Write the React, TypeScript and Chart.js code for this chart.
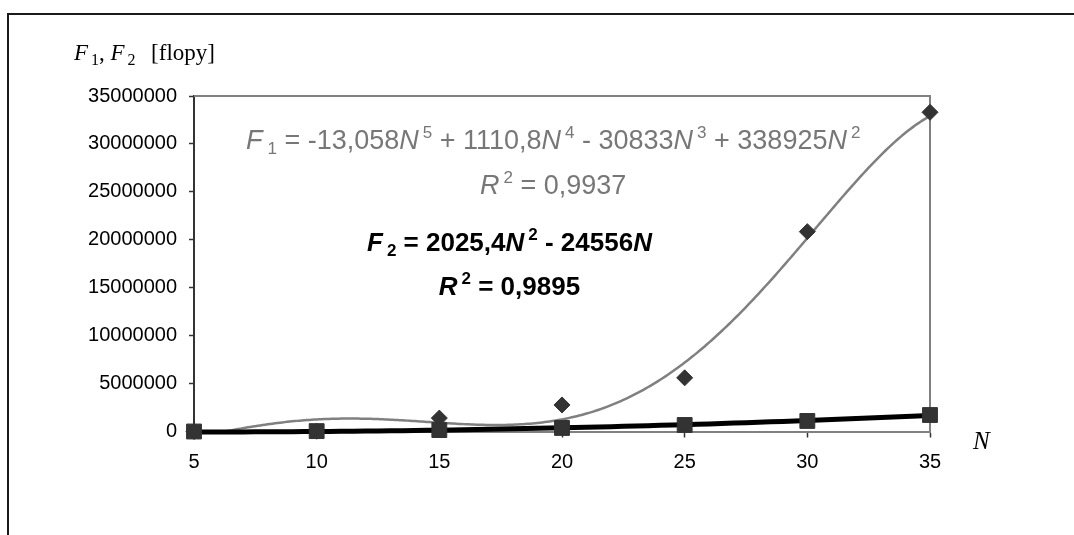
import React, { useEffect, useRef } from "react";
import { Chart, registerables } from "chart.js";

Chart.register(...registerables);

// ---- data ----
const nValues = [5, 10, 15, 20, 25, 30, 35];
const f1Values = [0, 30000, 1400000, 2770000, 5600000, 20850000, 33300000];
const f2Values = [0, 40000, 150000, 370000, 680000, 1100000, 1720000];
// F1 polynomial trendline
const f1TrendN = [6.2, 8, 9.7, 11.4, 13, 14.6, 16.3, 17.5, 20, 21.5, 23.2, 25, 27.3, 30, 31.6, 33.5, 35];
const f1TrendValues = [
  50000, 680000, 1130000, 1300000, 1230000, 1060000, 890000, 860000, 1400000, 1800000, 3900000,
  7100000, 13000000, 20500000, 24700000, 29600000, 33200000,
];
const yTickValues = [0, 5000000, 10000000, 15000000, 20000000, 25000000, 30000000, 35000000];
const xTickValues = [5, 10, 15, 20, 25, 30, 35];
const f1Powers = [0, 1, 2, 3, 4, 5];
const f2Powers = [1, 2];

const SANS = 'Arial, "Liberation Sans", sans-serif';
const SERIF = '"Times New Roman", "Liberation Serif", serif';

// least-squares polynomial (scaled basis for conditioning)
function fitPoly(xs: number[], ys: number[], powers: number[]) {
  const s = Math.max(...xs);
  const m = powers.length;
  const A: number[][] = Array.from({ length: m }, () => new Array(m + 1).fill(0));
  xs.forEach((x, k) => {
    const phi = powers.map((p) => Math.pow(x / s, p));
    for (let i = 0; i < m; i++) {
      for (let j = 0; j < m; j++) A[i][j] += phi[i] * phi[j];
      A[i][m] += phi[i] * ys[k];
    }
  });
  for (let c = 0; c < m; c++) {
    let piv = c;
    for (let r = c + 1; r < m; r++) if (Math.abs(A[r][c]) > Math.abs(A[piv][c])) piv = r;
    [A[c], A[piv]] = [A[piv], A[c]];
    for (let r = 0; r < m; r++) {
      if (r === c) continue;
      const f = A[r][c] / A[c][c];
      for (let j = c; j <= m; j++) A[r][j] -= f * A[c][j];
    }
  }
  const coef = A.map((row, i) => row[m] / row[i]);
  return (x: number) => powers.reduce((acc, p, i) => acc + coef[i] * Math.pow(x / s, p), 0);
}

function sampleCurve(fn: (x: number) => number, from: number, to: number, step: number) {
  const pts: { x: number; y: number }[] = [];
  for (let x = from; x <= to + 1e-9; x += step) pts.push({ x, y: fn(x) });
  return pts;
}

type Seg = { t: string; f: string; dy?: number; gap?: number };

function segsWidth(ctx: CanvasRenderingContext2D, segs: Seg[]) {
  let w = 0;
  for (const s of segs) {
    ctx.font = s.f;
    w += (s.gap || 0) + ctx.measureText(s.t).width;
  }
  return w;
}

function drawSegs(ctx: CanvasRenderingContext2D, segs: Seg[], x: number, y: number, color: string) {
  ctx.fillStyle = color;
  ctx.textAlign = "left";
  ctx.textBaseline = "alphabetic";
  let cx = x;
  for (const s of segs) {
    cx += s.gap || 0;
    ctx.font = s.f;
    ctx.fillText(s.t, cx, y + (s.dy || 0));
    cx += ctx.measureText(s.t).width;
  }
}

const F1N = `27px ${SANS}`;
const F1I = `italic 27px ${SANS}`;
const F1S = `17px ${SANS}`;
const F2N = `bold 26px ${SANS}`;
const F2I = `italic bold 26px ${SANS}`;
const F2S = `bold 17px ${SANS}`;

const f1Eq: Seg[] = [
  { t: "F", f: F1I },
  { t: "1", f: F1S, dy: 5, gap: 5 },
  { t: " = -13,058", f: F1N },
  { t: "N", f: F1I },
  { t: "5", f: F1S, dy: -11, gap: 4 },
  { t: " + 1110,8", f: F1N },
  { t: "N", f: F1I },
  { t: "4", f: F1S, dy: -11, gap: 4 },
  { t: " - 30833", f: F1N },
  { t: "N", f: F1I },
  { t: "3", f: F1S, dy: -11, gap: 4 },
  { t: " + 338925", f: F1N },
  { t: "N", f: F1I },
  { t: "2", f: F1S, dy: -11, gap: 4 },
];
const f1R2: Seg[] = [
  { t: "R", f: F1I },
  { t: "2", f: F1S, dy: -11, gap: 4 },
  { t: " = 0,9937", f: F1N },
];
const f2Eq: Seg[] = [
  { t: "F", f: F2I },
  { t: "2", f: F2S, dy: 5, gap: 4 },
  { t: " = 2025,4", f: F2N },
  { t: "N", f: F2I },
  { t: "2", f: F2S, dy: -11, gap: 4 },
  { t: " - 24556", f: F2N },
  { t: "N", f: F2I },
];
const f2R2: Seg[] = [
  { t: "R", f: F2I },
  { t: "2", f: F2S, dy: -11, gap: 4 },
  { t: " = 0,9895", f: F2N },
];

const TITLE_I = `italic 23px ${SERIF}`;
const TITLE_N = `23px ${SERIF}`;
const TITLE_S = `16px ${SERIF}`;
const yTitle: Seg[] = [
  { t: "F", f: TITLE_I },
  { t: "1", f: TITLE_S, dy: 5, gap: 3 },
  { t: ",", f: TITLE_N },
  { t: " F", f: TITLE_I },
  { t: "2", f: TITLE_S, dy: 5, gap: 3 },
  { t: "  [flopy]", f: TITLE_N, gap: 4 },
];

const decorPlugin = {
  id: "decor",
  beforeDraw(chart: any) {
    const ctx = chart.ctx as CanvasRenderingContext2D;
    ctx.save();
    ctx.fillStyle = "#ffffff";
    ctx.fillRect(0, 0, chart.width, chart.height);
    ctx.strokeStyle = "#1a1a1a";
    ctx.lineWidth = 2;
    ctx.beginPath();
    ctx.moveTo(8, chart.height);
    ctx.lineTo(8, 14);
    ctx.lineTo(chart.width, 14);
    ctx.stroke();
    ctx.restore();
  },
  beforeDatasetsDraw(chart: any) {
    const ctx = chart.ctx as CanvasRenderingContext2D;
    const a = chart.chartArea;
    ctx.save();
    ctx.strokeStyle = "#808080";
    ctx.lineWidth = 2;
    ctx.beginPath();
    ctx.moveTo(a.left, a.top);
    ctx.lineTo(a.right, a.top);
    ctx.lineTo(a.right, a.bottom);
    ctx.stroke();
    ctx.restore();
  },
  afterDraw(chart: any) {
    const ctx = chart.ctx as CanvasRenderingContext2D;
    ctx.save();
    const w1 = segsWidth(ctx, f1Eq);
    const x1 = 246;
    drawSegs(ctx, f1Eq, x1, 149, "#777777");
    const wr1 = segsWidth(ctx, f1R2);
    drawSegs(ctx, f1R2, x1 + w1 / 2 - wr1 / 2, 194, "#777777");
    const w2 = segsWidth(ctx, f2Eq);
    const x2 = 367;
    drawSegs(ctx, f2Eq, x2, 251, "#000000");
    const wr2 = segsWidth(ctx, f2R2);
    drawSegs(ctx, f2R2, x2 + w2 / 2 - wr2 / 2, 295, "#000000");
    drawSegs(ctx, yTitle, 74, 60, "#000000");
    ctx.font = `italic 25px ${SERIF}`;
    ctx.fillStyle = "#000000";
    ctx.fillText("N", 973, 449);
    ctx.restore();
  },
};

export default function App() {
  const ref = useRef<HTMLCanvasElement | null>(null);

  useEffect(() => {
    if (!ref.current) return;
    const f1Fit = fitPoly(f1TrendN, f1TrendValues, f1Powers);
    const f2Fit = fitPoly(nValues, f2Values, f2Powers);
    const f1Curve = sampleCurve(f1Fit, nValues[0], nValues[nValues.length - 1], 0.1);
    const f2Curve = sampleCurve(f2Fit, nValues[0], nValues[nValues.length - 1], 0.5);

    const chart = new Chart(ref.current, {
      type: "line",
      data: {
        datasets: [
          {
            label: "F2",
            data: nValues.map((n, i) => ({ x: n, y: f2Values[i] })),
            showLine: false,
            pointStyle: "rect",
            pointRadius: 10.5,
            pointBackgroundColor: "#333333",
            pointBorderColor: "#333333",
            pointBorderWidth: 1,
            clip: false,
            order: 0,
          },
          {
            label: "F2 trend",
            data: f2Curve,
            borderColor: "#000000",
            borderWidth: 5,
            pointRadius: 0,
            tension: 0,
            clip: 4,
            order: 1,
          },
          {
            label: "F1",
            data: nValues.map((n, i) => ({ x: n, y: f1Values[i] })),
            showLine: false,
            pointStyle: "rectRot",
            pointRadius: 8,
            pointBackgroundColor: "#333333",
            pointBorderColor: "#333333",
            pointBorderWidth: 1,
            clip: false,
            order: 2,
          },
          {
            label: "F1 trend",
            data: f1Curve,
            borderColor: "#808080",
            borderWidth: 2.5,
            pointRadius: 0,
            tension: 0,
            clip: 0,
            order: 3,
          },
        ],
      },
      options: {
        animation: false,
        responsive: false,
        devicePixelRatio: 1,
        events: [],
        layout: { padding: { left: 0, top: 96, right: 144, bottom: 0 } },
        plugins: {
          legend: { display: false },
          tooltip: { enabled: false },
          title: { display: false },
        },
        scales: {
          x: {
            type: "linear",
            min: xTickValues[0],
            max: xTickValues[xTickValues.length - 1],
            afterBuildTicks: (scale: any) => {
              scale.ticks = xTickValues.map((v) => ({ value: v }));
            },
            afterFit: (scale: any) => {
              scale.height = 103.5;
            },
            ticks: {
              color: "#000000",
              font: { family: SANS, size: 20 },
              padding: 13,
              maxRotation: 0,
              autoSkip: false,
              callback: (v: any) => String(v),
            },
            grid: {
              drawOnChartArea: false,
              drawTicks: true,
              tickLength: 6,
              tickColor: "#333333",
              tickWidth: 1.5,
            },
            border: { display: true, color: "#808080", width: 2 },
          },
          y: {
            type: "linear",
            min: yTickValues[0],
            max: yTickValues[yTickValues.length - 1],
            afterBuildTicks: (scale: any) => {
              scale.ticks = yTickValues.map((v) => ({ value: v }));
            },
            afterFit: (scale: any) => {
              scale.width = 194;
            },
            ticks: {
              color: "#000000",
              font: { family: SANS, size: 20 },
              padding: 12,
              autoSkip: false,
              callback: (v: any) => String(v),
            },
            grid: {
              drawOnChartArea: false,
              drawTicks: true,
              tickLength: 5,
              tickColor: "#333333",
              tickWidth: 1.5,
            },
            border: { display: true, color: "#333333", width: 2 },
          },
        },
      },
      plugins: [decorPlugin],
    });
    return () => chart.destroy();
  }, []);

  return (
    <canvas
      ref={ref}
      width={1074}
      height={535}
      style={{ position: "fixed", left: 0, top: 0, width: 1074, height: 535, display: "block" }}
    />
  );
}
